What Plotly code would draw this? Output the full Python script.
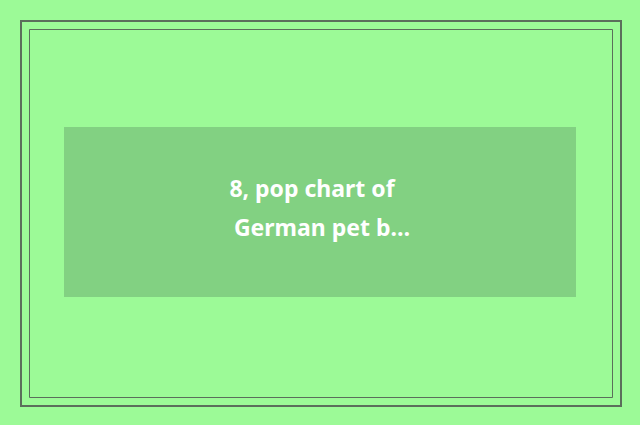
import plotly.graph_objects as go

# placeholder card: text lines and their centre positions (pixels)
title_lines = ["8, pop chart of", "German pet b…"]
line_x = [312, 322]
line_y = [191, 230]

bg_color = "#9cfa97"
box_color = "#82d182"
border_color = "#5b6e5b"

fig = go.Figure()

fig.add_trace(go.Scatter(
    x=line_x, y=line_y, mode="text", text=title_lines,
    textfont=dict(family="Noto Sans", size=23, color="white", weight="bold"),
    hoverinfo="skip", showlegend=False,
))

# darker inner panel
fig.add_shape(type="rect", x0=64, x1=576, y0=127, y1=297,
              fillcolor=box_color, line_width=0, layer="below")
# double frame
fig.add_shape(type="rect", x0=21, x1=621, y0=21, y1=406,
              line=dict(color=border_color, width=2))
fig.add_shape(type="rect", x0=29.5, x1=612.5, y0=29.5, y1=397.5,
              line=dict(color=border_color, width=1))

fig.update_layout(
    width=640, height=425,
    margin=dict(l=0, r=0, t=0, b=0),
    paper_bgcolor=bg_color, plot_bgcolor=bg_color,
)
fig.update_xaxes(range=[0, 640], visible=False, fixedrange=True)
fig.update_yaxes(range=[425, 0], visible=False, fixedrange=True)

# drop the default page margin so the card sits at the window corner
fig.write_html("out.html", config={"displayModeBar": False},
               post_script="document.body.style.margin='0';")
